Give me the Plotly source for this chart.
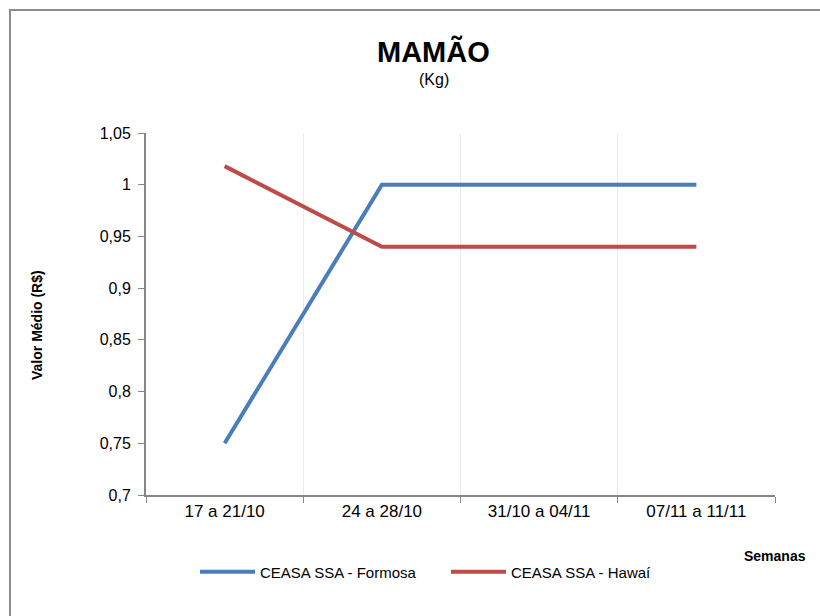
import plotly.graph_objects as go

semanas = ["17 a 21/10", "24 a 28/10", "31/10 a 04/11", "07/11 a 11/11"]
formosa = [0.75, 1.0, 1.0, 1.0]
hawai = [1.018, 0.94, 0.94, 0.94]
y_ticks = [0.7, 0.75, 0.8, 0.85, 0.9, 0.95, 1.0, 1.05]
y_tick_labels = ["0,7", "0,75", "0,8", "0,85", "0,9", "0,95", "1", "1,05"]

OFF = 0  # page body margin removed via post_script
W, H = 820 - OFF, 616 - OFF
L = 146 - OFF
T = 133 - OFF
R = W - (775 - OFF)
B = H - (495 - OFF)
pw, ph = W - L - R, H - T - B

def px(x):
    return (x - OFF - L) / pw

def py(y):
    return (H - B - (y - OFF)) / ph

FONT = "Liberation Sans, Arial, sans-serif"
NARROW = "Liberation Sans Narrow, Arial Narrow, Liberation Sans, sans-serif"

fig = go.Figure()
fig.add_trace(go.Scatter(x=semanas, y=formosa, mode="lines", name="CEASA SSA - Formosa",
                         line=dict(color="#4A7EBB", width=4)))
fig.add_trace(go.Scatter(x=semanas, y=hawai, mode="lines", name="CEASA SSA - Hawaí",
                         line=dict(color="#BE4B48", width=4)))

border = dict(color="#8C8C8C", width=2)

fig.update_layout(
    width=W, height=H,
    margin=dict(l=L, r=R, t=T, b=B),
    paper_bgcolor="white", plot_bgcolor="white",
    font=dict(family=FONT, color="#000000"),
    showlegend=True,
    legend=dict(orientation="h", x=px(195), xanchor="left", y=py(572), yanchor="middle",
                font=dict(size=15, family=FONT), itemwidth=55, entrywidth=181,
                bgcolor="rgba(0,0,0,0)"),
    xaxis=dict(type="category", range=[-0.5, 3.5], tickson="boundaries",
               showgrid=True, gridcolor="#EBEBEB", gridwidth=1,
               showline=True, linecolor="#868686", linewidth=2,
               ticks="outside", ticklen=6, tickcolor="#868686", tickwidth=1,
               tickfont=dict(size=17), zeroline=False, fixedrange=True),
    yaxis=dict(range=[0.7, 1.05], tickvals=y_ticks, ticktext=y_tick_labels,
               showgrid=False, showline=True, linecolor="#868686", linewidth=2,
               ticks="outside", ticklen=6, tickcolor="#868686", tickwidth=1,
               tickfont=dict(size=16), zeroline=False, ticklabelstandoff=4),
    annotations=[
        dict(text="<b>MAMÃO</b>", x=px(433), y=py(52), xref="paper", yref="paper",
             showarrow=False, font=dict(size=29, family=FONT), xanchor="center", yanchor="middle"),
        dict(text="(Kg)", x=px(434), y=py(79), xref="paper", yref="paper",
             showarrow=False, font=dict(size=16, family=FONT), xanchor="center", yanchor="middle"),
        dict(text="<b>Valor Médio (R$)</b>", x=px(37), y=py(325), xref="paper", yref="paper",
             showarrow=False, textangle=-90, font=dict(size=14, family=NARROW),
             xanchor="center", yanchor="middle"),
        dict(text="<b>Semanas</b>", x=px(808), y=py(556), xref="paper", yref="paper",
             showarrow=False, font=dict(size=14, family=NARROW), xanchor="right", yanchor="middle"),
    ],
    shapes=[
        dict(type="line", xref="paper", yref="paper", x0=px(9), x1=px(830), y0=py(10), y1=py(10),
             line=border, layer="below"),
        dict(type="line", xref="paper", yref="paper", x0=px(10), x1=px(10), y0=py(9), y1=py(630),
             line=border, layer="below"),
    ],
)

fig.write_html(
    "out.html",
    config={"displayModeBar": False},
    post_script="document.body.style.margin='0';document.body.style.overflow='hidden';",
)
